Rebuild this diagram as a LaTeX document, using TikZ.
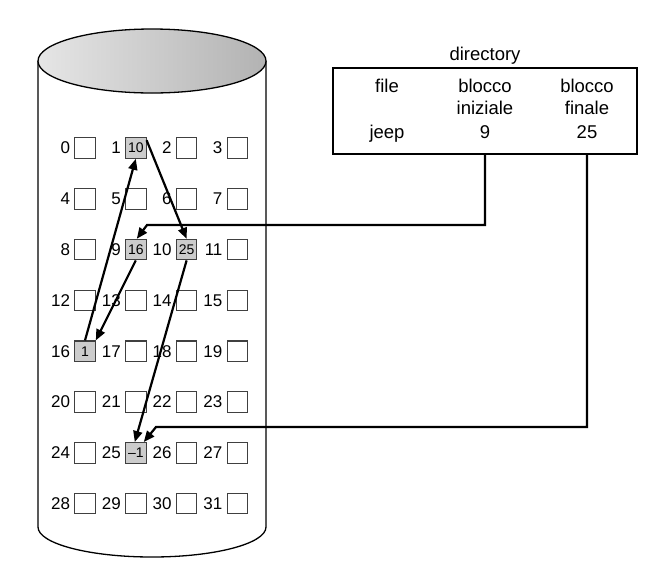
\documentclass[tikz,border=0pt]{standalone}
\usepackage{fontspec}
\setmainfont{Liberation Sans}
\usetikzlibrary{arrows.meta,calc}
\definecolor{usedgray}{gray}{0.80}
\begin{document}
\begin{tikzpicture}[x=1pt,y=-1pt,
  blk/.style={draw=black!75,line width=1.1pt,minimum size=20.5pt,inner sep=0pt,anchor=center,font=\fontsize{14}{14}\selectfont},
  lbl/.style={anchor=east,inner sep=0pt,font=\fontsize{17}{17}\selectfont},
  arr/.style={line width=2.2pt,-{Triangle[length=11pt,width=9pt]}},
  dtxt/.style={anchor=base,inner sep=0pt,font=\fontsize{18.5}{18.5}\selectfont}]
\useasboundingbox (0,0) rectangle (649,566);
% cylinder
\draw[line width=1.3pt] (38,61) -- (38,527) arc[start angle=180,end angle=360,x radius=114pt,y radius=30pt] -- (266,61);
\draw[line width=1.3pt,left color=black!10,right color=black!30] (152,61) ellipse [x radius=114pt,y radius=32pt];
% blocks
\foreach \n/\v/\f in {0//white,1/10/usedgray,2//white,3//white,
  4//white,5//white,6//white,7//white,
  8//white,9/16/usedgray,10/25/usedgray,11//white,
  12//white,13//white,14//white,15//white,
  16/1/usedgray,17//white,18//white,19//white,
  20//white,21//white,22//white,23//white,
  24//white,25/\textendash1/usedgray,26//white,27//white,
  28//white,29//white,30//white,31//white}{
  \pgfmathtruncatemacro\r{\n/4}
  \pgfmathtruncatemacro\c{mod(\n,4)}
  \node[blk,fill=\f] (s\n) at (85+50.8*\c,148+50.8*\r) {\v};
  \node[lbl] (l\n) at ($(s\n.west)+(-4,0)$) {\n};
}
% directory
\node[draw,line width=1.3pt,minimum width=304pt,minimum height=86pt,inner sep=0pt] (dir) at (485,111) {};
\node[dtxt] (dlabel) at (485,60) {directory};
\node[dtxt] (hfile) at (387,92) {file};
\node[dtxt] (hbi1) at (485,92) {blocco};
\node[dtxt] (hbi2) at (485,114) {iniziale};
\node[dtxt] (hbf1) at (587,92) {blocco};
\node[dtxt] (hbf2) at (587,114) {finale};
\node[dtxt] (vfile) at (387,138) {jeep};
\node[dtxt] (vbi) at (485,138) {9};
\node[dtxt] (vbf) at (587,138) {25};
% pointers from directory
\coordinate (c1) at (147,225);
\coordinate (c2) at (156,427);
\draw[arr] (dir.south -| vbi) |- (c1) -- ($(s9.north)+(1,0)$);
\draw[arr] (dir.south -| vbf) |- (c2) -- ($(s25.north)+(8,0)$);
% chain
\draw[arr] (s9.south) -- (s16.north east);
\draw[arr] (s16.north) -- (s1.south);
\draw[arr] ($(s1.north east)+(0,3)$) -- (s10.north);
\draw[arr] (s10.south) -- ($(s25.north)+(-1,0)$);
\end{tikzpicture}
\end{document}
